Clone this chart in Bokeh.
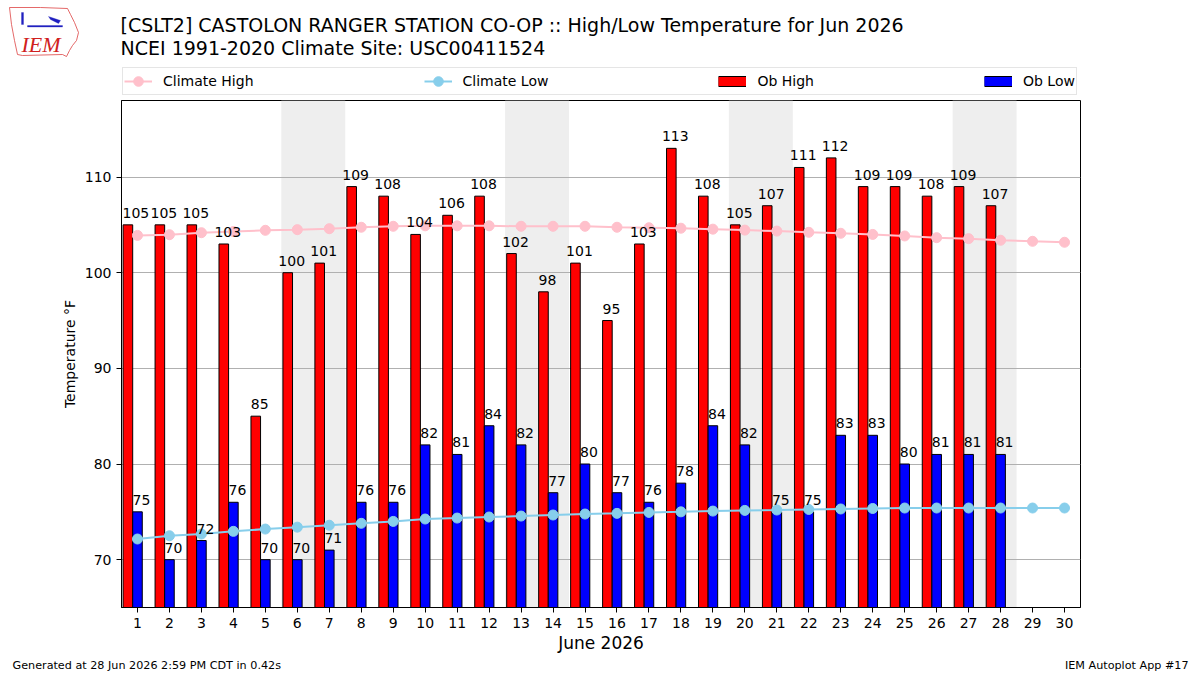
from bokeh.plotting import figure
from bokeh.layouts import column
from bokeh.models import (ColumnDataSource, FixedTicker, BoxAnnotation, Legend,
                          LegendItem, Label, PolyAnnotation, Range1d)
from bokeh.core.properties import value
from bokeh.embed import file_html
from bokeh.resources import INLINE

FONT = "DejaVu Sans"

# ---------------- data ----------------
days = list(range(1, 31))
ob_days = list(range(1, 29))
ob_high = [105, 105, 105, 103, 85, 100, 101, 109, 108, 104, 106, 108, 102, 98,
           101, 95, 103, 113, 108, 105, 107, 111, 112, 109, 109, 108, 109, 107]
ob_low = [75, 70, 72, 76, 70, 70, 71, 76, 76, 82, 81, 84, 82, 77,
          80, 77, 76, 78, 84, 82, 75, 75, 83, 83, 80, 81, 81, 81]
clim_high = [103.90, 103.97, 104.18, 104.30, 104.43, 104.50, 104.60, 104.75, 104.85, 104.90,
             104.90, 104.90, 104.85, 104.85, 104.85, 104.75, 104.70, 104.65, 104.55, 104.45,
             104.35, 104.22, 104.12, 104.00, 103.84, 103.66, 103.56, 103.39, 103.28, 103.18]
clim_low = [72.16, 72.50, 72.68, 72.96, 73.20, 73.40, 73.60, 73.80, 74.00, 74.25,
            74.35, 74.46, 74.56, 74.67, 74.77, 74.84, 74.94, 75.00, 75.08, 75.15,
            75.19, 75.25, 75.30, 75.35, 75.40, 75.40, 75.40, 75.40, 75.40, 75.40]
weekend_starts = [6, 13, 20, 27]
y_ticks = [70, 80, 90, 100, 110]
series_names = ["Climate High", "Climate Low", "Ob High", "Ob Low"]

title1 = "[CSLT2] CASTOLON RANGER STATION CO-OP :: High/Low Temperature for Jun 2026"
title2 = "NCEI 1991-2020 Climate Site: USC00411524"
footer_left = "Generated at 28 Jun 2026 2:59 PM CDT in 0.42s"
footer_right = "IEM Autoplot App #17"

W = 1200
HEAD_H = 100
FOOT_H = 20
MAIN_H = 675 - HEAD_H - FOOT_H


def blank(height):
    f = figure(width=W, height=height, x_range=Range1d(0, W),
               y_range=Range1d(height, 0), output_backend="svg",
               toolbar_location=None, x_axis_location=None, y_axis_location=None,
               min_border=0, min_border_left=0, min_border_right=0,
               min_border_top=0, min_border_bottom=0, title=None,
               background_fill_color="white", border_fill_color="white",
               outline_line_color=None, frame_align=False)
    f.xgrid.visible = False
    f.ygrid.visible = False
    return f


def hlab(fig, x, y, text, size, align="left", color="black", font=FONT, style="normal"):
    fig.add_layout(Label(x=x, y=y, text=text, text_font=font, text_font_size=size,
                         text_align=align, text_baseline="middle",
                         text_color=color, text_font_style=style))


# ---------------- header (titles + logo + legend) ----------------
head = blank(HEAD_H)
hlab(head, 120, 24, title1, "19px")
hlab(head, 120, 47, title2, "19px")

outline_x = [9, 40, 67, 70, 74, 78, 76, 72, 69, 66, 62, 22, 17, 14, 11, 9]
outline_y = [7, 7, 8, 14, 22, 32, 40, 45, 50, 56, 54, 55, 54, 40, 24, 7]
head.add_layout(PolyAnnotation(xs=outline_x, ys=outline_y, fill_alpha=0,
                               line_color="#dd4444", line_width=1, line_alpha=0.8))
head.add_layout(PolyAnnotation(xs=[27, 62, 62, 27], ys=[25, 25, 26.5, 26.5],
                               fill_color="#2020c0", fill_alpha=1,
                               line_color="#2020c0", line_width=1))
head.add_layout(PolyAnnotation(xs=[48, 60, 58, 50], ys=[16, 20, 23, 19],
                               fill_color="#2020c0", fill_alpha=1,
                               line_color="#2020c0", line_width=1))
head.add_layout(PolyAnnotation(xs=[21, 23, 23, 21], ys=[12, 12, 24, 24],
                               fill_color="#2020c0", fill_alpha=1,
                               line_color="#2020c0", line_width=1))
hlab(head, 21, 44, "IEM", "22px", color="#d02020", font="Liberation Serif",
     style="italic")

# legend proxies: same styles as the chart marks, drawn outside the visible area
proxy = ColumnDataSource(dict(x=[-500, -501], y=[-500, -500]))
g_ch_l = head.line("x", "y", source=proxy, line_color="pink", line_width=2)
g_ch_s = head.scatter("x", "y", source=proxy, size=10, fill_color="pink", line_color="pink")
g_cl_l = head.line("x", "y", source=proxy, line_color="skyblue", line_width=2)
g_cl_s = head.scatter("x", "y", source=proxy, size=10, fill_color="skyblue", line_color="skyblue")
g_hi_edge = head.line("x", "y", source=proxy, line_color="black", line_width=11)
g_hi = head.line("x", "y", source=proxy, line_color="red", line_width=9)
g_lo_edge = head.line("x", "y", source=proxy, line_color="black", line_width=11)
g_lo = head.line("x", "y", source=proxy, line_color="blue", line_width=9)

legend = Legend(items=[
    LegendItem(label=series_names[0], renderers=[g_ch_l, g_ch_s]),
    LegendItem(label=series_names[1], renderers=[g_cl_l, g_cl_s]),
    LegendItem(label=series_names[2], renderers=[g_hi_edge, g_hi]),
    LegendItem(label=series_names[3], renderers=[g_lo_edge, g_lo]),
], orientation="horizontal", location=(122, 5), margin=0, padding=1,
    spacing=170, glyph_width=28, glyph_height=24, label_height=16,
    label_standoff=11, label_text_font=FONT, label_text_font_size="14px",
    label_text_color="black", border_line_color="#cccccc", border_line_width=1,
    background_fill_color="white", background_fill_alpha=1.0)
head.add_layout(legend, "center")

# ---------------- main chart ----------------
p = figure(width=W, height=MAIN_H, x_range=(0.5, 30.5), y_range=(65, 118),
           output_backend="svg", toolbar_location=None, title=None,
           min_border_left=121, min_border_right=120, min_border_top=0,
           min_border_bottom=47, background_fill_color="white",
           border_fill_color="white", frame_align=False)
p.outline_line_color = "black"
p.outline_line_width = 1
p.outline_line_alpha = 1.0

for d in weekend_starts:
    p.add_layout(BoxAnnotation(left=d - 0.5, right=d + 1.5, fill_color="#eeeeee",
                               fill_alpha=1.0, line_alpha=0, level="underlay"))
boxes = [r for r in p.center if isinstance(r, BoxAnnotation)]
others = [r for r in p.center if not isinstance(r, BoxAnnotation)]
p.center = boxes + others

src_hi = ColumnDataSource(dict(x=[d - 0.3 for d in ob_days], y=ob_high,
                               t=[str(v) for v in ob_high],
                               dx=[8 if d == 1 else 4 for d in ob_days]))
src_lo = ColumnDataSource(dict(x=ob_days, y=ob_low, t=[str(v) for v in ob_low]))
src_cl = ColumnDataSource(dict(x=days, hi=clim_high, lo=clim_low))

p.vbar(x="x", top="y", bottom=0, width=0.3, source=src_hi,
       fill_color="red", line_color="black", line_width=1)
p.vbar(x="x", top="y", bottom=0, width=0.3, source=src_lo,
       fill_color="blue", line_color="black", line_width=1)

p.line("x", "hi", source=src_cl, line_color="pink", line_width=2)
p.scatter("x", "hi", source=src_cl, size=10, fill_color="pink", line_color="pink")
p.line("x", "lo", source=src_cl, line_color="skyblue", line_width=2)
p.scatter("x", "lo", source=src_cl, size=10, fill_color="skyblue", line_color="skyblue")

p.text("x", "y", text="t", source=src_hi, text_align="center",
       text_baseline="bottom", x_offset="dx", y_offset=-7,
       text_font=value(FONT), text_font_size="14px", text_color="black")
p.text("x", "y", text="t", source=src_lo, text_align="center",
       text_baseline="bottom", x_offset=4, y_offset=-7,
       text_font=value(FONT), text_font_size="14px", text_color="black")

p.xaxis.ticker = FixedTicker(ticks=days)
p.yaxis.ticker = FixedTicker(ticks=y_ticks)
for ax in (p.xaxis[0], p.yaxis[0]):
    ax.major_tick_in = 0
    ax.major_tick_out = 5
    ax.minor_tick_line_color = None
    ax.axis_line_color = "black"
    ax.major_tick_line_color = "black"
    ax.major_label_text_font = FONT
    ax.major_label_text_font_size = "14px"
    ax.major_label_text_color = "black"
    ax.axis_label_text_font = FONT
    ax.axis_label_text_font_style = "normal"
    ax.axis_label_text_color = "black"
p.xaxis.axis_label = "June 2026"
p.xaxis.axis_label_text_font_size = "17px"
p.xaxis.axis_label_standoff = 2
p.yaxis.axis_label = "Temperature °F"
p.yaxis.axis_label_text_font_size = "14px"
p.yaxis.axis_label_standoff = 4
p.xgrid.visible = False
p.ygrid.grid_line_color = "#b0b0b0"
p.ygrid.grid_line_width = 1

# ---------------- footer ----------------
foot = blank(FOOT_H)
hlab(foot, 12, 10, footer_left, "11.2px")
hlab(foot, 1188, 10, footer_right, "11.2px", align="right")

layout = column(head, p, foot, spacing=0)
open("out.html", "w").write(file_html(layout, INLINE))
